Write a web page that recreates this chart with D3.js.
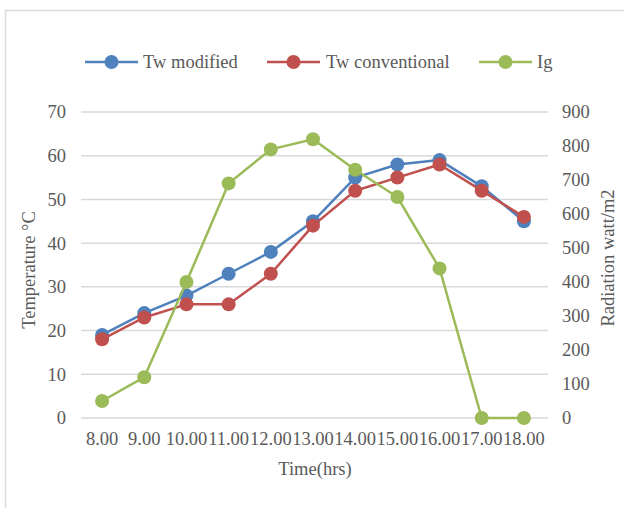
<!DOCTYPE html>
<html>
<head>
<meta charset="utf-8">
<script src="https://cdn.jsdelivr.net/npm/d3@7"></script>
<style>
  html, body { margin: 0; padding: 0; background: #fff; }
  svg { display: block; }
  text { font-family: "Liberation Serif", "Times New Roman", serif; fill: #595959; }
</style>
</head>
<body>
<svg id="chart" width="624" height="508"></svg>
<script>
// Hourly readings
const hours = ["8.00", "9.00", "10.00", "11.00", "12.00", "13.00", "14.00", "15.00", "16.00", "17.00", "18.00"];
const twModified = [19, 24, 28, 33, 38, 45, 55, 58, 59, 53, 45];
const twConventional = [18, 23, 26, 26, 33, 44, 52, 55, 58, 52, 46];
const ig = [50, 120, 400, 690, 790, 820, 730, 650, 440, 0, 0];
const tempTicks = [0, 10, 20, 30, 40, 50, 60, 70];
const radTicks = [0, 100, 200, 300, 400, 500, 600, 700, 800, 900];

const svg = d3.select("#chart");
const W = 624, H = 508;
const plot = { left: 81, right: 545, top: 112, bottom: 418 };
const fontSize = 18.5;
const gridColor = "#d9d9d9";

// Chart frame
svg.append("rect")
  .attr("x", 5.5).attr("y", 10.5)
  .attr("width", W + 10).attr("height", H + 10)
  .attr("fill", "none").attr("stroke", gridColor).attr("stroke-width", 1.5);

const x = d3.scaleBand().domain(hours).range([plot.left, plot.right]).padding(0);
const xc = d => x(d) + x.bandwidth() / 2;
const yL = d3.scaleLinear().domain([0, 70]).range([plot.bottom, plot.top]);
const yR = d3.scaleLinear().domain([0, 900]).range([plot.bottom, plot.top]);

// Gridlines
svg.append("g").selectAll("line").data(tempTicks).join("line")
  .attr("x1", plot.left).attr("x2", plot.right + 3)
  .attr("y1", d => yL(d)).attr("y2", d => yL(d))
  .attr("stroke", gridColor).attr("stroke-width", 1.5);

// Left axis
const leftAxis = svg.append("g")
  .attr("transform", `translate(${plot.left},0)`)
  .call(d3.axisLeft(yL).tickValues(tempTicks).tickSize(0).tickPadding(15));
leftAxis.select(".domain").remove();
leftAxis.selectAll("text").attr("font-size", fontSize).attr("font-family", null).attr("fill", "#595959");

// Right axis
const rightAxis = svg.append("g")
  .attr("transform", `translate(${plot.right},0)`)
  .call(d3.axisRight(yR).tickValues(radTicks).tickSize(0).tickPadding(17));
rightAxis.select(".domain").remove();
rightAxis.selectAll("text").attr("font-size", fontSize).attr("font-family", null).attr("fill", "#595959");

// Bottom axis
const bottomAxis = svg.append("g")
  .attr("transform", `translate(0,${plot.bottom})`)
  .call(d3.axisBottom(x).tickSize(0).tickPadding(14));
bottomAxis.select(".domain").remove();
bottomAxis.selectAll("text").attr("font-size", fontSize).attr("font-family", null).attr("fill", "#595959");

// Axis titles
svg.append("text")
  .attr("transform", "translate(35,270) rotate(-90)")
  .attr("text-anchor", "middle").attr("font-size", fontSize)
  .text("Temperature °C");
svg.append("text")
  .attr("transform", "translate(614,258) rotate(-90)")
  .attr("text-anchor", "middle").attr("font-size", fontSize)
  .text("Radiation watt/m2");
svg.append("text")
  .attr("x", 315).attr("y", 475)
  .attr("text-anchor", "middle").attr("font-size", fontSize)
  .text("Time(hrs)");

// Series
const series = [
  { name: "Tw modified", values: twModified, scale: yL, color: "#4f81bd" },
  { name: "Tw conventional", values: twConventional, scale: yL, color: "#c0504d" },
  { name: "Ig", values: ig, scale: yR, color: "#9bbb59" }
];

series.forEach(s => {
  const line = d3.line().x((d, i) => xc(hours[i])).y(d => s.scale(d));
  const g = svg.append("g");
  g.append("path").datum(s.values)
    .attr("d", line).attr("fill", "none")
    .attr("stroke", s.color).attr("stroke-width", 2.5)
    .attr("stroke-linejoin", "round");
  g.selectAll("circle").data(s.values).join("circle")
    .attr("cx", (d, i) => xc(hours[i])).attr("cy", d => s.scale(d))
    .attr("r", 7).attr("fill", s.color);
});

// Legend
const legendItems = [
  { x: 85, textX: 143 },
  { x: 267, textX: 326 },
  { x: 479, textX: 537 }
];
const legendY = 62;
const lg = svg.append("g");
series.forEach((s, i) => {
  const p = legendItems[i];
  lg.append("line")
    .attr("x1", p.x).attr("x2", p.x + 53)
    .attr("y1", legendY).attr("y2", legendY)
    .attr("stroke", s.color).attr("stroke-width", 2.5);
  lg.append("circle")
    .attr("cx", p.x + 26.5).attr("cy", legendY).attr("r", 7).attr("fill", s.color);
  lg.append("text")
    .attr("x", p.textX).attr("y", legendY + 6)
    .attr("font-size", fontSize)
    .text(s.name);
});
</script>
</body>
</html>
